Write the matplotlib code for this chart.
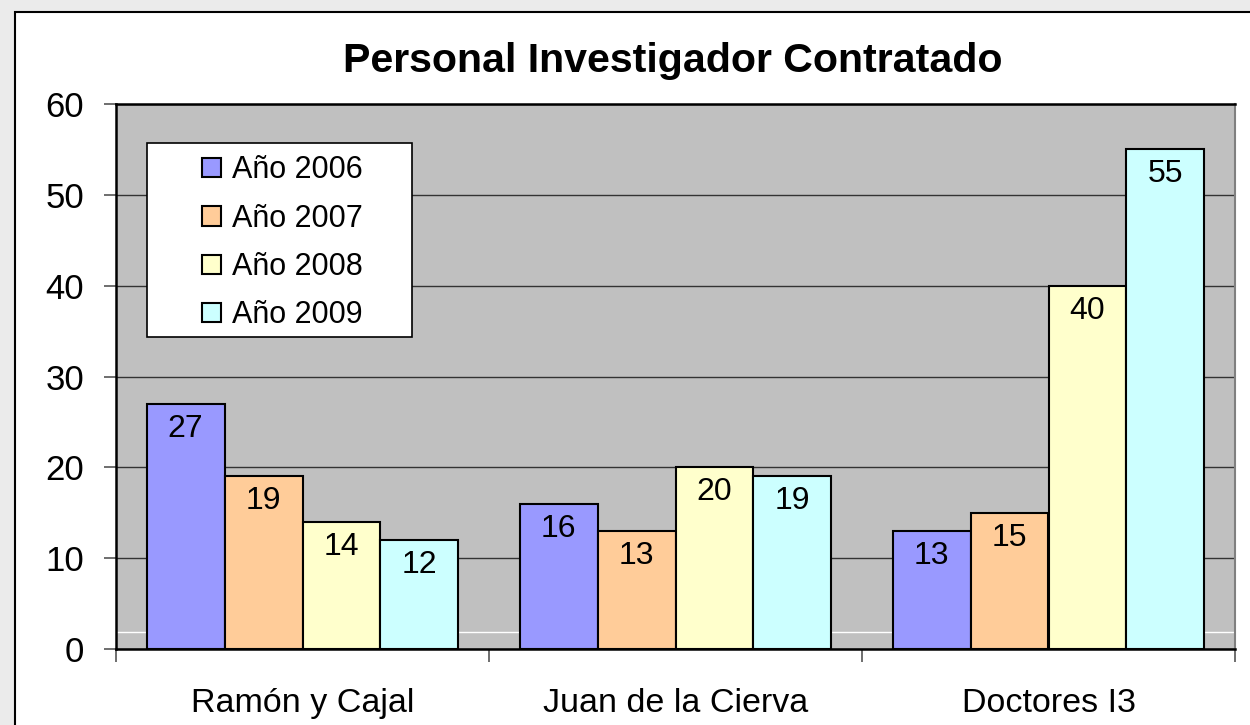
import numpy as np
import matplotlib
matplotlib.use("Agg")
import matplotlib.pyplot as plt
from matplotlib.patches import Rectangle

plt.rcParams['font.family'] = ['Liberation Sans', 'DejaVu Sans']

# data
categories = ["Ramón y Cajal", "Juan de la Cierva", "Doctores I3"]
series_names = ["Año 2006", "Año 2007", "Año 2008", "Año 2009"]
v2006 = [27, 16, 13]
v2007 = [19, 13, 15]
v2008 = [14, 20, 40]
v2009 = [12, 19, 55]
series_values = [v2006, v2007, v2008, v2009]
colors = ["#9999ff", "#ffcc99", "#ffffcc", "#ccffff"]

fig = plt.figure(figsize=(12.5, 7.25), dpi=100, facecolor="#ebebeb")

# white chart area with black frame (cut off at right/bottom like the original)
fig.patches.append(Rectangle((15 / 1250, -0.01), 1.0, 1 - 12 / 725 + 0.01,
                             transform=fig.transFigure, facecolor="white",
                             edgecolor="black", linewidth=1.5, zorder=-10))

ax = fig.add_axes([116 / 1250, 1 - 649 / 725, 1119 / 1250, 545 / 725])
ax.set_facecolor("#c0c0c0")

bar_w = 0.2091
centers = np.arange(len(categories)) + 0.5
for k, (name, vals) in enumerate(zip(series_names, series_values)):
    xs = centers + (k - 1.5) * bar_w
    bars = ax.bar(xs, vals, width=bar_w, color=colors[k], edgecolor="black",
                  linewidth=1.5, label=name, zorder=3)
    for b, v in zip(bars, vals):
        ax.annotate(str(v), (b.get_x() + b.get_width() / 2, v),
                    xytext=(0, -18), textcoords="offset points",
                    ha="center", va="center", fontsize=23, zorder=4)

ax.set_xlim(0, 3)
ax.set_ylim(0, 60)
ax.set_yticks(np.arange(0, 61, 10))
ax.yaxis.grid(True, color="#333333", linewidth=1.0, zorder=1)
ax.axhline(1.9, color="white", linewidth=1.0, zorder=1)
ax.set_axisbelow(True)

# category boundaries as ticks, names centred between them
ax.set_xticks([0, 1, 2, 3])
ax.set_xticklabels([])
ax.set_xticks(centers, minor=True)
ax.set_xticklabels(categories, minor=True, fontsize=24.5)
ax.tick_params(axis="x", which="major", length=9, color="#555555", width=1.2)
ax.tick_params(axis="x", which="minor", length=0, pad=28)
ax.tick_params(axis="y", length=9, color="#555555", width=1.2, pad=14, labelsize=25)

for side in ["top", "left", "bottom"]:
    ax.spines[side].set_color("black")
    ax.spines[side].set_linewidth(1.8)
ax.spines["right"].set_color("#808080")
ax.spines["right"].set_linewidth(1.5)

fig.text(673 / 1250, 1 - 61 / 725, "Personal Investigador Contratado",
         ha="center", va="center", fontsize=29.6, fontweight="bold")

# legend box
ax.add_patch(Rectangle((0.0277, 0.5725), 0.2368, 0.3555, transform=ax.transAxes,
                       facecolor="white", edgecolor="black", linewidth=1.2, zorder=5))
ax.legend(loc="center", bbox_to_anchor=(0.1487, 0.745), frameon=False, fontsize=22,
          handlelength=0.6, handleheight=0.6, handletextpad=0.36,
          labelspacing=0.6).set_zorder(6)

fig.savefig("out.png", dpi=100, facecolor=fig.get_facecolor())
